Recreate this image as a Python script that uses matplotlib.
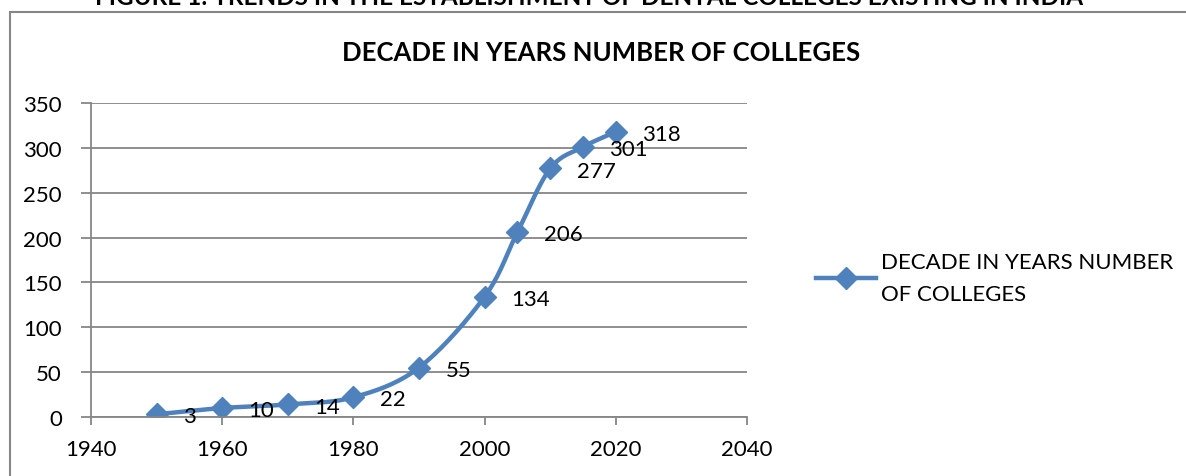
import numpy as np
import matplotlib
matplotlib.use('Agg')
import matplotlib.pyplot as plt
from matplotlib.patches import Rectangle

# data
years = [1950, 1960, 1970, 1980, 1990, 2000, 2005, 2010, 2015, 2020]
colleges = [3, 10, 14, 22, 55, 134, 206, 277, 301, 318]
series_name = 'DECADE IN YEARS NUMBER\nOF COLLEGES'
chart_title = 'DECADE IN YEARS NUMBER OF COLLEGES'
fig_caption = 'FIGURE 1: TRENDS IN THE ESTABLISHMENT OF DENTAL COLLEGES EXISTING IN INDIA'

plt.rcParams['font.family'] = ['Lato', 'DejaVu Sans']
blue = '#4F81BD'
gray = '#868686'


def smooth(x, y, n=20):
    # catmull-rom style path through the points (Excel "smoothed line")
    x = np.asarray(x, float)
    y = np.asarray(y, float)
    px, py = [], []
    for i in range(len(x) - 1):
        x0, y0 = (x[i - 1], y[i - 1]) if i > 0 else (2 * x[i] - x[i + 1], 2 * y[i] - y[i + 1])
        x3, y3 = (x[i + 2], y[i + 2]) if i + 2 < len(x) else (2 * x[i + 1] - x[i], 2 * y[i + 1] - y[i])
        t = np.linspace(0, 1, n)
        for a0, a1, a2, a3, out in ((x0, x[i], x[i + 1], x3, px), (y0, y[i], y[i + 1], y3, py)):
            out.extend(0.5 * (2 * a1 + (-a0 + a2) * t + (2 * a0 - 5 * a1 + 4 * a2 - a3) * t ** 2
                              + (-a0 + 3 * a1 - 3 * a2 + a3) * t ** 3))
    return px, py


fig = plt.figure(figsize=(11.86, 4.77), dpi=100)
fig.patches.append(Rectangle((10 / 1186, -0.1), 1.2, 1.1 - 13 / 477, transform=fig.transFigure,
                             fill=False, edgecolor=gray, lw=1.5))
fig.text(0.497, 1 - 5 / 477, fig_caption, ha='center', va='baseline', fontsize=17.5,
         fontweight='bold')
fig.text(0.507, 1 - 53 / 477, chart_title, ha='center', va='center', fontsize=18.5,
         fontweight='bold')

ax = fig.add_axes([91 / 1186, 1 - 418 / 477, (747 - 91) / 1186, (418 - 104) / 477])
sx, sy = smooth(years, colleges)
ax.plot(sx, sy, color=blue, lw=3.2, solid_capstyle='round')
ax.plot(years, colleges, 'D', color=blue, markersize=11, lw=0)
for x, y in zip(years, colleges):
    ax.annotate(str(y), (x, y), xytext=(19, -1.5), textcoords='offset points',
                ha='left', va='center', fontsize=16)

# legend proxy
ax.plot([], [], color=blue, lw=3.2, marker='D', markersize=11, label=series_name)
leg = ax.legend(loc='center left', bbox_to_anchor=(805 / 1186, 1 - 279 / 477),
                bbox_transform=fig.transFigure, frameon=False, fontsize=16,
                handlelength=2.7, handletextpad=0.2, borderpad=0)
for t in leg.get_texts():
    t.set_linespacing(1.75)

ax.set_xlim(1940, 2040)
ax.set_ylim(0, 350)
ax.set_xticks(range(1940, 2041, 20))
ax.set_yticks(range(0, 351, 50))
ax.grid(axis='y', color=gray, lw=1.3)
ax.set_axisbelow(True)
for s in ['top', 'right']:
    ax.spines[s].set_visible(False)
for s in ['left', 'bottom']:
    ax.spines[s].set_color(gray)
    ax.spines[s].set_linewidth(1.3)
ax.tick_params(axis='y', length=7, width=1.3, color=gray, labelsize=16, pad=14)
ax.tick_params(axis='x', length=6, width=1.3, color=gray, labelsize=16, pad=10)
ax.set_facecolor('none')

plt.savefig('out.png', dpi=100)
